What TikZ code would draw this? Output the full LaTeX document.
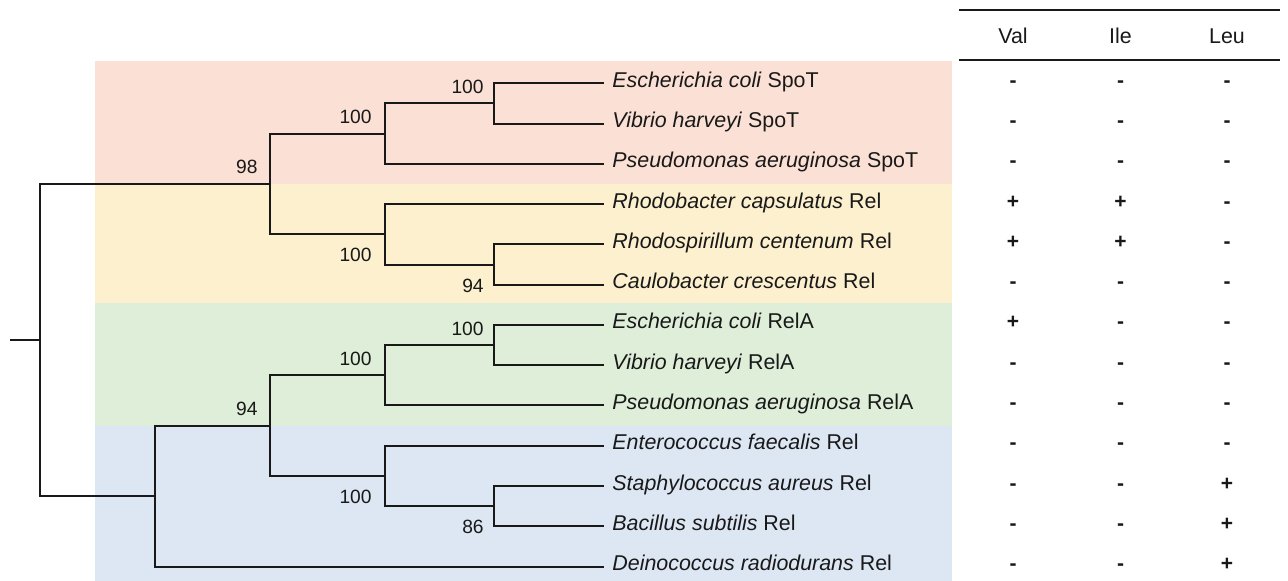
\documentclass[tikz,border=0pt]{standalone}
\usepackage{fontspec}
\setmainfont{Liberation Sans}
\usetikzlibrary{calc}
\definecolor{spotband}{RGB}{250,224,213}
\definecolor{relaband}{RGB}{253,240,207}
\definecolor{relgband}{RGB}{222,238,217}
\definecolor{firmband}{RGB}{221,231,244}
\definecolor{ink}{RGB}{25,25,25}
\tikzset{
  branch/.style={draw=ink, line width=1pt},
  rule/.style={draw=ink, line width=1pt},
  leaflabel/.style={anchor=base west, inner sep=0pt, text=ink, font=\fontsize{10.7}{12}\selectfont},
  boot/.style={anchor=base east, inner sep=0pt, text=ink, font=\fontsize{9.6}{11}\selectfont},
  colhead/.style={anchor=base, inner sep=0pt, text=ink, font=\fontsize{10.7}{12}\selectfont},
  cellmark/.style={anchor=base, inner sep=0pt, text=ink, font=\fontsize{10.5}{12}\selectfont}
}
\begin{document}
\begin{tikzpicture}[x=0.5pt,y=-0.5pt]
\useasboundingbox (0,0) rectangle (1288,581);

% clade colour bands
\fill[spotband] (95,61)    rectangle (952,184.5);
\fill[relaband] (95,184.5) rectangle (952,303);
\fill[relgband] (95,303)   rectangle (952,426);
\fill[firmband] (95,426)   rectangle (952,581);

% leaf tips
\coordinate (l0)  at (604,83.3);
\coordinate (l1)  at (604,123.6);
\coordinate (l2)  at (604,163.9);
\coordinate (l3)  at (604,204.1);
\coordinate (l4)  at (604,244.4);
\coordinate (l5)  at (604,284.7);
\coordinate (l6)  at (604,325.0);
\coordinate (l7)  at (604,365.3);
\coordinate (l8)  at (604,405.5);
\coordinate (l9)  at (604,445.8);
\coordinate (l10) at (604,486.1);
\coordinate (l11) at (604,526.4);
\coordinate (l12) at (604,566.7);

% internal nodes
\coordinate (rootstub) at (10,340.1);
\coordinate (root) at (40,340.1);
\coordinate (A) at (270,184.0);
\coordinate (B) at (385,133.7);
\coordinate (C) at (494,103.4);
\coordinate (D) at (385,234.3);
\coordinate (E) at (494,264.6);
\coordinate (F) at (155,496.2);
\coordinate (G) at (270,425.7);
\coordinate (H) at (385,375.3);
\coordinate (I) at (494,345.2);
\coordinate (J) at (385,476.0);
\coordinate (K) at (494,506.3);

% branches
\draw[branch] (rootstub) -- (root);
\draw[branch] (root) |- (A);
\draw[branch] (root) |- (F);
\draw[branch] (A) |- (B);
\draw[branch] (A) |- (D);
\draw[branch] (B) |- (C);
\draw[branch] (B) |- (l2);
\draw[branch] (C) |- (l0);
\draw[branch] (C) |- (l1);
\draw[branch] (D) |- (l3);
\draw[branch] (D) |- (E);
\draw[branch] (E) |- (l4);
\draw[branch] (E) |- (l5);
\draw[branch] (F) |- (G);
\draw[branch] (F) |- (l12);
\draw[branch] (G) |- (H);
\draw[branch] (G) |- (J);
\draw[branch] (H) |- (I);
\draw[branch] (H) |- (l8);
\draw[branch] (I) |- (l6);
\draw[branch] (I) |- (l7);
\draw[branch] (J) |- (l9);
\draw[branch] (J) |- (K);
\draw[branch] (K) |- (l10);
\draw[branch] (K) |- (l11);

% bootstrap values
\node[boot] (bA) at ($(A)+(-12,-10)$) {98};
\node[boot] (bB) at ($(B)+(-13,-10)$) {100};
\node[boot] (bC) at ($(C)+(-10,-10)$) {100};
\node[boot] (bD) at ($(D)+(-13,27.5)$) {100};
\node[boot] (bE) at ($(E)+(-10,27.5)$) {94};
\node[boot] (bG) at ($(G)+(-12,-10)$) {94};
\node[boot] (bH) at ($(H)+(-13,-10)$) {100};
\node[boot] (bI) at ($(I)+(-10,-10)$) {100};
\node[boot] (bJ) at ($(J)+(-13,27.5)$) {100};
\node[boot] (bK) at ($(K)+(-10,27.5)$) {86};

% taxon names
\node[leaflabel] (t0)  at ($(l0)+(8,4)$)  {\textit{Escherichia coli} SpoT};
\node[leaflabel] (t1)  at ($(l1)+(8,4)$)  {\textit{Vibrio harveyi} SpoT};
\node[leaflabel] (t2)  at ($(l2)+(8,4)$)  {\textit{Pseudomonas aeruginosa} SpoT};
\node[leaflabel] (t3)  at ($(l3)+(8,4)$)  {\textit{Rhodobacter capsulatus} Rel};
\node[leaflabel] (t4)  at ($(l4)+(8,4)$)  {\textit{Rhodospirillum centenum} Rel};
\node[leaflabel] (t5)  at ($(l5)+(8,4)$)  {\textit{Caulobacter crescentus} Rel};
\node[leaflabel] (t6)  at ($(l6)+(8,4)$)  {\textit{Escherichia coli} RelA};
\node[leaflabel] (t7)  at ($(l7)+(8,4)$)  {\textit{Vibrio harveyi} RelA};
\node[leaflabel] (t8)  at ($(l8)+(8,4)$)  {\textit{Pseudomonas aeruginosa} RelA};
\node[leaflabel] (t9)  at ($(l9)+(8,4)$)  {\textit{Enterococcus faecalis} Rel};
\node[leaflabel] (t10) at ($(l10)+(8,4)$) {\textit{Staphylococcus aureus} Rel};
\node[leaflabel] (t11) at ($(l11)+(8,4)$) {\textit{Bacillus subtilis} Rel};
\node[leaflabel] (t12) at ($(l12)+(8,4)$) {\textit{Deinococcus radiodurans} Rel};

% response table
\draw[rule] (959,9.7) -- (1280,9.7);
\draw[rule] (959,60) -- (1280,60);
\node[colhead] (hVal) at (1013,43.3) {Val};
\node[colhead] (hIle) at (1120.5,43.3) {Ile};
\node[colhead] (hLeu) at (1227,43.3) {Leu};

\foreach \row/\va/\vb/\vc in {
  0/-/-/-, 1/-/-/-, 2/-/-/-, 3/+/+/-, 4/+/+/-, 5/-/-/-, 6/+/-/-,
  7/-/-/-, 8/-/-/-, 9/-/-/-, 10/-/-/+, 11/-/-/+, 12/-/-/+}{
  \foreach \col/\v in {1013/\va, 1120.5/\vb, 1227/\vc}{
    \node[cellmark] (m\row-\col) at ($(\col,0)+(0,87.3)+(0,40.28*\row)$)
      {\if+\v\textbf{+}\else\textbf{-}\fi};
  }
}
\end{tikzpicture}
\end{document}
